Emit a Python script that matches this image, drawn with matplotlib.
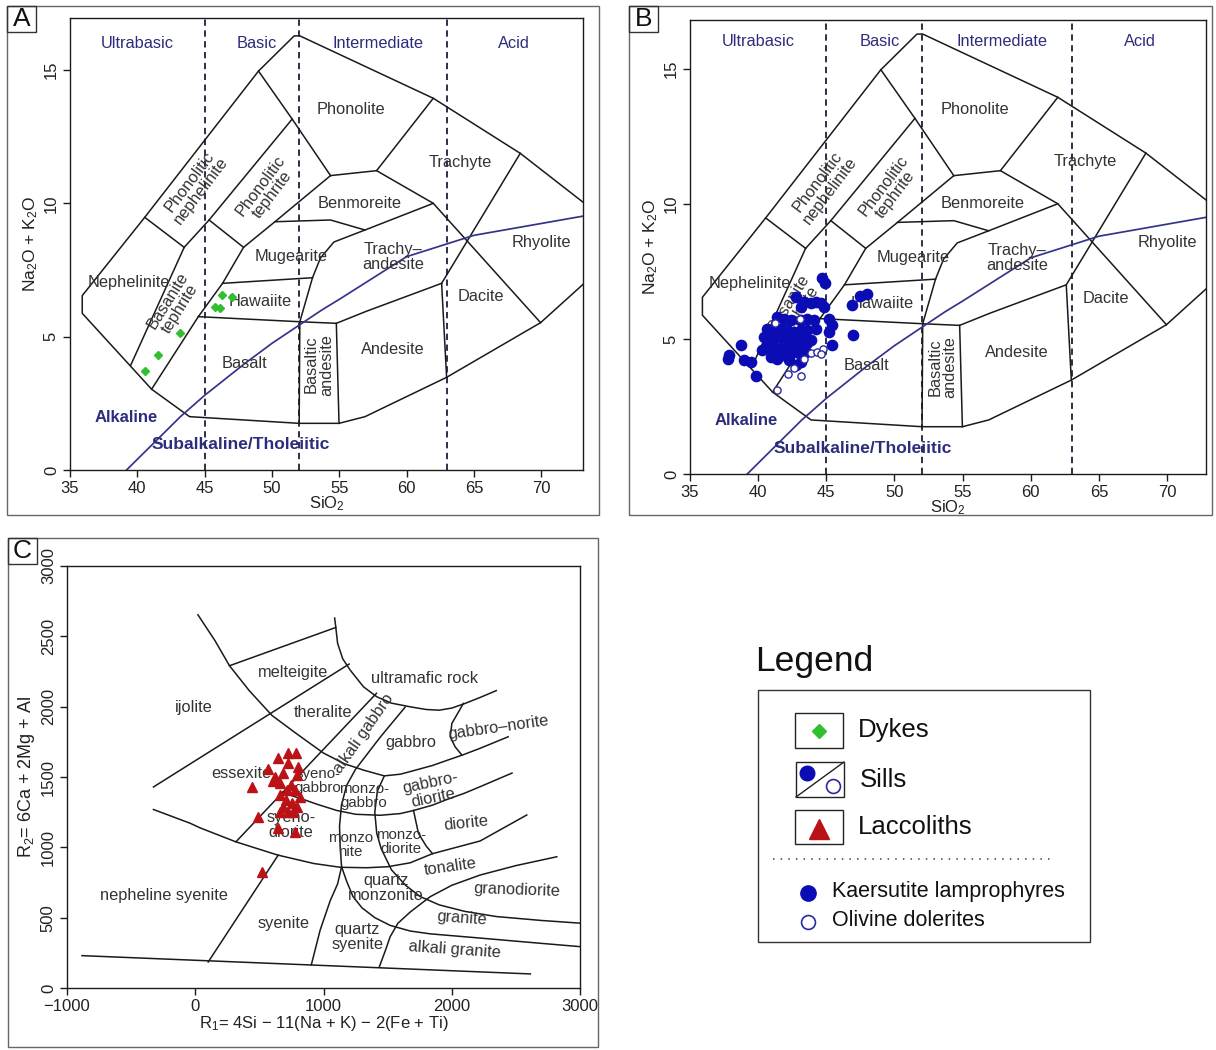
import matplotlib
matplotlib.use("Agg")
import matplotlib.pyplot as plt
from matplotlib.patches import Rectangle

plt.rcParams['font.family'] = ['Liberation Sans', 'DejaVu Sans']
plt.rcParams['mathtext.fontset'] = 'custom'
plt.rcParams['mathtext.rm'] = 'Liberation Sans'
plt.rcParams['mathtext.it'] = 'Liberation Sans:italic'
plt.rcParams['mathtext.bf'] = 'Liberation Sans:bold'

# ---------------- sample data ----------------
# Dykes (SiO2, Na2O+K2O)
dykes_sio2 = [40.55, 41.55, 43.15, 45.75, 46.15, 46.30, 47.00]
dykes_alk = [3.70, 4.30, 5.15, 6.12, 6.08, 6.56, 6.50]

# Sills: kaersutite lamprophyres (filled) and olivine dolerites (open)
kaersutite_sio2 = [44.70, 44.87, 43.36, 43.85, 44.21, 44.58, 44.82, 43.12, 42.75, 41.41,
                   41.90, 42.39, 43.12, 43.60, 44.09, 45.19, 45.43, 45.19, 40.68, 41.04,
                   41.65, 42.14, 42.63, 43.12, 43.60, 44.21, 40.43, 40.92, 41.41, 41.90,
                   42.39, 42.87, 43.36, 43.85, 40.68, 41.17, 41.65, 42.14, 42.63, 43.12,
                   43.60, 40.31, 41.04, 41.78, 42.39, 42.99, 43.48, 45.43, 38.73, 37.87,
                   37.80, 38.97, 39.46, 39.82, 40.92, 41.41, 42.26, 42.75, 43.12, 46.90,
                   47.47, 47.95, 46.99]
kaersutite_alk = [7.27, 7.07, 6.37, 6.31, 6.37, 6.31, 6.19, 6.19, 6.55, 5.82,
                  5.75, 5.69, 5.69, 5.75, 5.69, 5.75, 5.51, 5.26, 5.38, 5.32,
                  5.38, 5.32, 5.26, 5.32, 5.32, 5.38, 5.08, 5.02, 5.08, 4.95,
                  5.02, 5.08, 5.02, 4.95, 4.77, 4.71, 4.65, 4.71, 4.77, 4.71,
                  4.83, 4.58, 4.46, 4.40, 4.46, 4.46, 4.52, 4.77, 4.77, 4.40,
                  4.24, 4.22, 4.15, 3.62, 4.34, 4.27, 4.21, 4.03, 4.15, 6.27,
                  6.58, 6.67, 5.13]
dolerite_sio2 = [43.85, 44.29, 44.78, 42.63, 42.19, 43.12, 41.36, 43.36, 41.23, 43.08, 44.63]
dolerite_alk = [4.46, 4.52, 4.61, 3.91, 3.70, 3.62, 3.11, 4.27, 5.60, 5.72, 4.45]

# Laccoliths (R1, R2)
laccolith_r1 = [649, 727, 787, 727, 805, 571, 624, 688, 793, 442, 663, 715, 779,
                663, 818, 754, 688, 793, 766, 493, 663, 727, 649, 779, 520, 705, 745, 610]
laccolith_r2 = [1633, 1668, 1672, 1597, 1573, 1554, 1502, 1526, 1514, 1431, 1455, 1407, 1407,
                1372, 1360, 1313, 1289, 1289, 1253, 1217, 1253, 1253, 1135, 1111, 827, 1340, 1440, 1470]

# ---------------- TAS classification (Cox et al.) ----------------
tas_outline = [(74.0, 9.69), (68.44, 11.875), (61.98, 13.94), (52.07, 16.28), (51.65, 16.28),
               (49.0, 14.96), (40.55, 9.475), (35.91, 6.54), (35.91, 5.875), (41.06, 3.03),
               (43.88, 2.0), (52.02, 1.75), (54.98, 1.75), (56.91, 2.0), (62.97, 3.475),
               (69.95, 5.525), (74.0, 7.37)]
tas_neph_top = [(40.55, 9.475), (43.48, 8.35)]
tas_neph_right = [(39.5, 3.92), (43.48, 8.35)]
tas_phneph_right = [(43.48, 8.35), (45.33, 9.375), (51.5, 13.16)]
tas_phonolite_left = [(49.0, 14.96), (51.5, 13.16), (54.35, 11.04)]
tas_phteph_base = [(45.33, 9.375), (47.89, 8.35)]
tas_basanite_right = [(41.06, 3.03), (44.53, 5.75), (46.33, 7.0), (47.89, 8.35),
                      (50.22, 9.31), (54.35, 11.04)]
tas_phonolite_base = [(54.35, 11.04), (57.77, 11.225), (61.98, 13.94)]
tas_trachyte_base = [(57.77, 11.225), (61.98, 10.0), (69.95, 5.525)]
tas_rhyolite_left = [(68.44, 11.875), (62.6, 7.0), (62.97, 3.475)]
tas_hawaiite_top = [(46.33, 7.0), (53.01, 7.21)]
tas_trachyandesite_left = [(52.07, 5.56), (53.01, 7.21), (53.6, 7.95), (54.6, 8.55),
                           (56.91, 9.0), (61.98, 10.0)]
tas_mugearite_top = [(50.22, 9.31), (54.35, 9.375), (56.91, 9.0)]
tas_basalt_top = [(44.53, 5.75), (52.07, 5.56), (54.78, 5.5), (57.0, 5.95), (62.6, 7.0)]
tas_bas_andesite_left = [(52.07, 5.56), (52.02, 1.75)]
tas_bas_andesite_right = [(54.78, 5.5), (54.98, 1.75)]

tas_boundaries = [tas_outline, tas_neph_top, tas_neph_right, tas_phneph_right,
                  tas_phonolite_left, tas_phteph_base, tas_basanite_right,
                  tas_phonolite_base, tas_trachyte_base, tas_rhyolite_left,
                  tas_hawaiite_top, tas_trachyandesite_left, tas_mugearite_top,
                  tas_basalt_top, tas_bas_andesite_left, tas_bas_andesite_right]

# Alkaline / subalkaline divide (Irvine & Baragar 1971)
ib_sio2 = [39.2, 40.0, 43.2, 45.0, 48.0, 50.0, 53.7, 55.0, 60.0, 65.0, 74.0]
ib_alk = [0.0, 0.4, 2.0, 2.8, 4.0, 4.75, 6.0, 6.4, 8.0, 8.8, 9.6]

silica_divisions = [45, 52, 63]
silica_classes = ["Ultrabasic", "Basic", "Intermediate", "Acid"]

# ---------------- R1-R2 classification (De la Roche et al.) ----------------
r_bottom = [(-883, 230), (2613, 100)]
r_outer_arc = [(21, 2653), (154, 2469), (267, 2291), (421, 2114), (599, 1937), (791, 1807),
               (1000, 1670), (1161, 1595), (1312, 1549), (1473, 1508), (1600, 1520),
               (1702, 1545), (1850, 1582), (1962, 1618), (2080, 1655), (2221, 1704), (2440, 1786)]
r_ultramafic_arc = [(1087, 2630), (1096, 2563), (1110, 2450), (1150, 2340), (1208, 2260),
                    (1312, 2141), (1416, 2070), (1530, 2025), (1676, 1999), (1800, 1980),
                    (1902, 1975), (2000, 1990), (2095, 2020), (2220, 2065), (2347, 2114)]
r_melteigite_top = [(267, 2291), (1096, 2563)]
r_ijolite_base = [(-326, 1429), (1200, 2303)]
r_essexite_right = [(317, 1039), (1413, 2095)]
r_monzo_left = [(1636, 1996), (1443, 1784), (1250, 1555), (1180, 1440), (1140, 1300),
                (1125, 1150), (1130, 1000), (1141, 862), (1110, 740), (1052, 620),
                (974, 412), (905, 165)]
r_gabbrodiorite_left = [(1473, 1505), (1420, 1400), (1400, 1250), (1415, 1100), (1450, 990),
                        (1530, 840), (1640, 730), (1754, 650), (1902, 591), (2100, 545),
                        (2347, 508), (2700, 480), (3000, 461)]
r_syenogabbro_base = [(680, 1392), (760, 1365), (844, 1340), (954, 1305), (1104, 1262),
                      (1250, 1235), (1442, 1228), (1600, 1240), (1702, 1262), (1850, 1300),
                      (1962, 1340), (2100, 1385), (2221, 1431), (2470, 1528)]
r_syenodiorite_base = [(-326, 1269), (-39, 1171), (36, 1139), (317, 1039), (643, 945),
                       (924, 885), (1132, 858), (1339, 855), (1500, 862), (1676, 890),
                       (1850, 955), (2221, 1045), (2585, 1230)]
r_nepheline_syenite = [(101, 185), (647, 945)]
r_tonalite_base = [(1435, 150), (1480, 260), (1520, 365), (1580, 460), (1676, 540),
                   (1832, 649), (2000, 730), (2221, 803), (2500, 870), (2819, 933)]
r_alkali_granite_top = [(1141, 862), (1180, 760), (1230, 650), (1300, 570), (1400, 500),
                        (1520, 445), (1676, 405), (1832, 385), (2221, 355), (2600, 325),
                        (3000, 294)]
r_diorite_left = [(1702, 1262), (1740, 1100), (1800, 1010), (1850, 955)]
r_gabbronorite = [(2091, 2023), (2001, 1881), (1988, 1786), (2026, 1715), (2079, 1656)]

r_boundaries = [r_bottom, r_outer_arc, r_ultramafic_arc, r_melteigite_top, r_ijolite_base,
                r_essexite_right, r_monzo_left, r_gabbrodiorite_left, r_syenogabbro_base,
                r_syenodiorite_base, r_nepheline_syenite, r_tonalite_base,
                r_alkali_granite_top, r_diorite_left, r_gabbronorite]

# ---------------- styles ----------------
INK = '#1a1a1a'
LABEL = '#333333'
NAVY = '#2c2c7c'
GREEN = '#2fbf2f'
BLUE = '#0c0cb4'
RED = '#bb1218'
FIELD_FS = 11.8

W, H = 1216, 1050
fig = plt.figure(figsize=(W / 100, H / 100), dpi=100)

# overlay in pixel coordinates for frames and the legend
ov = fig.add_axes([0, 0, 1, 1], zorder=-1)
ov.set_xlim(0, W)
ov.set_ylim(H, 0)
ov.axis('off')


def panel_frame(x0, y0, x1, y1, letter):
    ov.add_patch(Rectangle((x0, y0), x1 - x0, y1 - y0, fill=False, ec='#666666', lw=1.0))
    ov.add_patch(Rectangle((x0, y0), 29, 26, fill=False, ec='#333333', lw=1.0))
    ov.text(x0 + 14.5, y0 + 13.5, letter, fontsize=19, ha='center', va='center', color='#111111')


def style_axes(ax):
    ax.tick_params(direction='out', length=5, width=1.0, labelsize=12,
                   color=INK, labelcolor='#222222', pad=3)
    for lab in ax.get_yticklabels():
        lab.set_rotation(90)
        lab.set_va('center')
    for sp in ax.spines.values():
        sp.set_linewidth(1.0)
        sp.set_color(INK)


def draw_tas(ax, xmax, ymax, phneph_x):
    for line in tas_boundaries:
        xs, ys = zip(*line)
        ax.plot(xs, ys, color=INK, lw=1.1, zorder=2)
    ax.plot(ib_sio2, ib_alk, color='#34348a', lw=1.25, zorder=2)
    for xv in silica_divisions:
        ax.plot([xv, xv], [0, ymax], color='#1e1e3a', lw=1.3, ls=(0, (3.5, 2.5)), zorder=1)
    ax.set_xlim(35, xmax)
    ax.set_ylim(0, ymax)
    ax.set_xticks(range(35, 75, 5))
    ax.set_yticks([0, 5, 10, 15])
    style_axes(ax)
    ax.set_xlabel('SiO$_2$', fontsize=12, labelpad=-1, color='#222222')
    ax.set_ylabel('Na$_2$O + K$_2$O', fontsize=12.5, labelpad=3, color='#222222')

    fields = [
        ("Phonolite", 55.9, 13.5, 0), ("Trachyte", 64.0, 11.55, 0),
        ("Phonolitic\nnephelinite", phneph_x, 10.65, 53), ("Phonolitic\ntephrite", 49.6, 10.5, 53),
        ("Benmoreite", 56.5, 10.0, 0), ("Mugearite", 51.4, 8.0, 0),
        ("Trachy\u2013\nandesite", 59.0, 8.0, 0), ("Rhyolite", 70.0, 8.55, 0),
        ("Nephelinite", 39.4, 7.05, 0), ("Basanite\ntephrite", 42.7, 6.2, 58),
        ("Hawaiite", 49.1, 6.3, 0), ("Dacite", 65.5, 6.5, 0), ("Basalt", 47.95, 4.0, 0),
        ("Basaltic\nandesite", 53.5, 3.95, 90), ("Andesite", 59.0, 4.5, 0),
    ]
    for text, x, y, rot in fields:
        ax.text(x, y, text, fontsize=FIELD_FS, color=LABEL, ha='center', va='center',
                rotation=rot, rotation_mode='anchor', linespacing=1.0, zorder=3)
    for text, x in zip(silica_classes, [40.0, 48.9, 57.9, 68.0]):
        ax.text(x, 16.0, text, fontsize=FIELD_FS, color=NAVY, ha='center', va='center', zorder=3)
    ax.text(39.15, 1.98, "Alkaline", fontsize=12, color=NAVY, fontweight='bold',
            ha='center', va='center', zorder=3)
    ax.text(47.7, 0.94, "Subalkaline/Tholeiitic", fontsize=12.5, color=NAVY,
            fontweight='bold', ha='center', va='center', zorder=3)


# ---------------- panel A ----------------
panel_frame(7, 6, 599, 515, "A")
axA = fig.add_axes([70 / W, 1 - 470 / H, 513 / W, 452 / H])
draw_tas(axA, 73.1, 16.95, 44.3)
axA.plot(dykes_sio2, dykes_alk, ls='none', marker='D', ms=3.8, color=GREEN, mec=GREEN, zorder=5)

# ---------------- panel B ----------------
panel_frame(629, 6, 1212, 515, "B")
axB = fig.add_axes([690 / W, 1 - 474 / H, 516 / W, 454 / H])
draw_tas(axB, 72.85, 16.8, 44.8)
axB.plot(kaersutite_sio2, kaersutite_alk, ls='none', marker='o', ms=7.4, color=BLUE,
         mec=BLUE, zorder=5)
axB.plot(dolerite_sio2, dolerite_alk, ls='none', marker='o', ms=5.2, mfc='white',
         mec='#2a2aa0', mew=1.0, zorder=6)

# ---------------- panel C ----------------
panel_frame(8, 538, 598, 1047, "C")
axC = fig.add_axes([67 / W, 1 - 988 / H, 513 / W, 422 / H])
for line in r_boundaries:
    xs, ys = zip(*line)
    axC.plot(xs, ys, color=INK, lw=1.1, zorder=2)
axC.set_xlim(-1000, 3000)
axC.set_ylim(0, 3000)
axC.set_xticks([-1000, 0, 1000, 2000, 3000])
axC.set_yticks(range(0, 3001, 500))
style_axes(axC)
axC.set_xlabel('R$_1$= 4Si \u2212 11(Na + K) \u2212 2(Fe + Ti)', fontsize=12, labelpad=0,
               color='#222222')
axC.set_ylabel('R$_2$= 6Ca + 2Mg + Al', fontsize=13, labelpad=3, color='#222222')

rock_names = [
    ("melteigite", 761, 2244, 0, FIELD_FS), ("ultramafic rock", 1784, 2197, 0, FIELD_FS),
    ("ijolite", -9, 1996, 0, FIELD_FS), ("theralite", 998, 1961, 0, FIELD_FS),
    ("alkali gabbro", 1310, 1807, 55, FIELD_FS), ("gabbro", 1680, 1748, 0, FIELD_FS),
    ("gabbro\u2013norite", 2361, 1854, 8, FIELD_FS), ("essexite", 361, 1524, 0, FIELD_FS),
    ("syeno-\ngabbro", 955, 1472, 0, 10.8), ("monzo-\ngabbro", 1315, 1362, 0, 10.8),
    ("gabbro-\ndiorite", 1843, 1406, 12, FIELD_FS), ("diorite", 2110, 1169, 6, FIELD_FS),
    ("syeno-\ndiorite", 747, 1158, 0, FIELD_FS), ("monzo\nnite", 1212, 1016, 0, 10.8),
    ("monzo-\ndiorite", 1605, 1039, 0, 10.8), ("tonalite", 1991, 862, 8, FIELD_FS),
    ("granodiorite", 2510, 697, -2, FIELD_FS), ("quartz\nmonzonite", 1487, 709, 0, FIELD_FS),
    ("nepheline syenite", -246, 661, 0, FIELD_FS), ("syenite", 687, 461, 0, FIELD_FS),
    ("quartz\nsyenite", 1265, 366, 0, FIELD_FS), ("granite", 2080, 496, -4, FIELD_FS),
    ("alkali granite", 2021, 272, -4, FIELD_FS),
]
for text, x, y, rot, fs in rock_names:
    axC.text(x, y, text, fontsize=fs, color=LABEL, ha='center', va='center',
             rotation=rot, rotation_mode='anchor', linespacing=1.0, zorder=3)
axC.plot(laccolith_r1, laccolith_r2, ls='none', marker='^', ms=7, color=RED, mec=RED, zorder=5)

# ---------------- legend ----------------
ov.text(755, 662, "Legend", fontsize=25.5, ha='left', va='center', color='#111111')
ov.add_patch(Rectangle((758, 690), 332, 252, fill=False, ec='#333333', lw=1.0))

ov.add_patch(Rectangle((795, 713), 48, 35, fill=False, ec='#222222', lw=1.0))
ov.plot([819], [730.5], marker='D', ms=7.5, color=GREEN, mec=GREEN)
ov.text(858, 730, "Dykes", fontsize=18.5, ha='left', va='center', color='#111111')

ov.add_patch(Rectangle((796, 762), 48, 35, fill=False, ec='#222222', lw=1.0))
ov.plot([796, 844], [797, 762], color='#222222', lw=1.0)
ov.plot([807], [773], marker='o', ms=10.5, color=BLUE, mec=BLUE)
ov.plot([833], [786], marker='o', ms=10, mfc='white', mec='#2a2aa0', mew=1.2)
ov.text(860, 780, "Sills", fontsize=18.5, ha='left', va='center', color='#111111')

ov.add_patch(Rectangle((795, 810), 48, 34, fill=False, ec='#222222', lw=1.0))
ov.plot([819], [829], marker='^', ms=15, color=RED, mec=RED)
ov.text(858, 827, "Laccoliths", fontsize=18.5, ha='left', va='center', color='#111111')

ov.plot([773, 1052], [859, 859], color='#444444', lw=1.1, ls=(0, (1, 4)))

ov.plot([808], [893], marker='o', ms=11, color=BLUE, mec=BLUE)
ov.text(832, 892, "Kaersutite lamprophyres", fontsize=15.5, ha='left', va='center', color='#111111')
ov.plot([808], [922], marker='o', ms=10, mfc='white', mec='#2a2aa0', mew=1.2)
ov.text(832, 921, "Olivine dolerites", fontsize=15.5, ha='left', va='center', color='#111111')

fig.savefig('out.png', dpi=100, facecolor='white')
